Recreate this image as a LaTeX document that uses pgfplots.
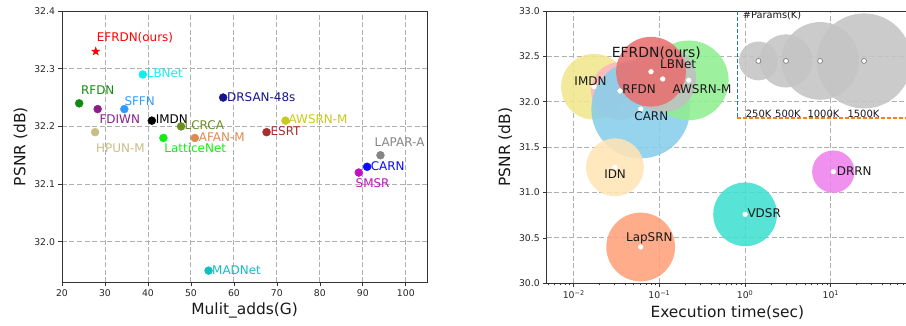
\documentclass[border=0pt]{standalone}
\usepackage{fontspec}
\setmainfont{DejaVu Sans}
\usepackage{pgfplots}
\pgfplotsset{compat=1.18}

\definecolor{cLB}{HTML}{11F0F0}
\definecolor{cRF}{HTML}{128A12}
\definecolor{cFD}{HTML}{8A1F8A}
\definecolor{cSF}{HTML}{3399FF}
\definecolor{cLC}{HTML}{6B8E23}
\definecolor{cHP}{HTML}{C9BC85}
\definecolor{cLN}{HTML}{11EE11}
\definecolor{cAF}{HTML}{DD8A4F}
\definecolor{cDR}{HTML}{14148C}
\definecolor{cAW}{HTML}{C8C81E}
\definecolor{cES}{HTML}{AA2D2D}
\definecolor{cLA}{HTML}{858585}
\definecolor{cCA}{HTML}{0A0AFF}
\definecolor{cSM}{HTML}{C010C0}
\definecolor{cMA}{HTML}{10BFBF}
\definecolor{gridc}{HTML}{B0B0B0}

\definecolor{bIM}{HTML}{F0E68C}
\definecolor{bRF}{HTML}{FFB6C1}
\definecolor{bCA}{HTML}{87CEEB}
\definecolor{bAW}{HTML}{90EE90}
\definecolor{bLB}{HTML}{C0C0C0}
\definecolor{bEF}{HTML}{E87070}
\definecolor{bID}{HTML}{FFE4B5}
\definecolor{bLP}{HTML}{FFA07A}
\definecolor{bVD}{HTML}{40E0D0}
\definecolor{bDR}{HTML}{EE82EE}
\definecolor{bLG}{HTML}{C4C4C4}
\definecolor{tabblue}{HTML}{1F77B4}
\definecolor{taborange}{HTML}{FF7F0E}

\pgfdeclareplotmark{fstar}{%
  \pgfpathmoveto{\pgfpointpolar{90}{\pgfplotmarksize}}%
  \pgfpathlineto{\pgfpointpolar{126}{0.40\pgfplotmarksize}}%
  \pgfpathlineto{\pgfpointpolar{162}{\pgfplotmarksize}}%
  \pgfpathlineto{\pgfpointpolar{198}{0.40\pgfplotmarksize}}%
  \pgfpathlineto{\pgfpointpolar{234}{\pgfplotmarksize}}%
  \pgfpathlineto{\pgfpointpolar{270}{0.40\pgfplotmarksize}}%
  \pgfpathlineto{\pgfpointpolar{306}{\pgfplotmarksize}}%
  \pgfpathlineto{\pgfpointpolar{342}{0.40\pgfplotmarksize}}%
  \pgfpathlineto{\pgfpointpolar{18}{\pgfplotmarksize}}%
  \pgfpathlineto{\pgfpointpolar{54}{0.40\pgfplotmarksize}}%
  \pgfpathclose
  \pgfusepathqfillstroke
}

\newcommand{\pt}[3]{\addplot[only marks, mark=*, mark size=4, color=#1, mark options={draw=#1, fill=#1}] coordinates {(#2,#3)};}
\newcommand{\lab}[4]{\node[anchor=west, inner sep=0pt, text=#1, font=\fontsize{12}{14}\selectfont] at (axis cs:#2,#3) {#4};}
\newcommand{\bub}[4]{\addplot[only marks, mark=*, mark size=#4, mark options={draw=#1, draw opacity=0, fill=#1, fill opacity=0.88}] coordinates {(#2,#3)};}
\newcommand{\rlab}[3]{\node[anchor=west, inner sep=0pt, text=black!90, font=\fontsize{12}{14}\selectfont] at (axis cs:#1,#2) {#3};}

\pgfplotsset{
  myax/.style={
    scale only axis,
    /pgf/number format/assume math mode=true,
    tick label style={font=\fontsize{9.3}{11}\selectfont, text=black!85},
    label style={font=\fontsize{15.5}{18}\selectfont, text=black!90},
    tick align=outside, xtick pos=bottom, ytick pos=left,
    major tick length=3.5bp, minor tick length=2bp,
    every tick/.style={black!80, line width=0.7bp},
    grid=major,
    major grid style={gridc, line width=0.9bp, dash pattern=on 5bp off 2.5bp},
    axis line style={black!80, line width=0.8bp},
    yticklabel style={/pgf/number format/fixed, /pgf/number format/precision=1, /pgf/number format/fixed zerofill},
  },
}

\begin{document}
\begin{tikzpicture}[x=1bp,y=1bp]
\path[use as bounding box] (-62,-42.7) rectangle (844,282.3);

% ---------- left chart ----------
\begin{axis}[myax,
  at={(0bp,0bp)}, anchor=south west,
  width=365.3bp, height=271.3bp,
  xmin=20, xmax=105, ymin=31.9298, ymax=32.4,
  xtick={20,30,40,50,60,70,80,90,100},
  ytick={32.0,32.1,32.2,32.3,32.4},
  xticklabel style={/pgf/number format/fixed, /pgf/number format/precision=0},
  xlabel={Mulit\_adds(G)}, ylabel={PSNR (dB)},
]
\addplot[only marks, mark=fstar, mark size=4.3, color=red, mark options={fill=red, draw=red}] coordinates {(27.85,32.33)};
\pt{cLB}{38.8}{32.29}
\pt{cRF}{24.0}{32.24}
\pt{cFD}{28.3}{32.23}
\pt{cSF}{34.5}{32.23}
\pt{black}{40.9}{32.21}
\pt{cLC}{47.7}{32.20}
\pt{cHP}{27.7}{32.19}
\pt{cLN}{43.6}{32.18}
\pt{cAF}{50.9}{32.18}
\pt{cDR}{57.5}{32.25}
\pt{cAW}{72.0}{32.21}
\pt{cES}{67.6}{32.19}
\pt{cLA}{94.1}{32.15}
\pt{cCA}{91.0}{32.13}
\pt{cSM}{89.05}{32.12}
\pt{cMA}{54.1}{31.95}
\lab{red}{28.06}{32.353}{EFRDN(ours)}
\lab{cLB}{39.7}{32.292}{LBNet}
\lab{cRF}{24.4}{32.262}{RFDN}
\lab{cSF}{34.5}{32.244}{SFFN}
\lab{cFD}{28.7}{32.213}{FDIWN}
\lab{black}{41.8}{32.213}{IMDN}
\lab{cLC}{48.5}{32.202}{LCRCA}
\lab{cHP}{27.9}{32.162}{HPUN-M}
\lab{cLN}{43.8}{32.162}{LatticeNet}
\lab{cAF}{51.8}{32.182}{AFAN-M}
\lab{cDR}{58.4}{32.25}{DRSAN-48s}
\lab{cAW}{72.7}{32.213}{AWSRN-M}
\lab{cES}{68.5}{32.191}{ESRT}
\lab{cLA}{92.7}{32.172}{LAPAR-A}
\lab{cCA}{91.8}{32.131}{CARN}
\lab{cSM}{88.3}{32.101}{SMSR}
\lab{cMA}{54.9}{31.951}{MADNet}
\end{axis}

% ---------- right chart ----------
\begin{axis}[myax,
  at={(484.7bp,-1bp)}, anchor=south west,
  width=361.3bp, height=272.3bp,
  xmode=log, xmin=0.004842, xmax=79.6, ymin=30, ymax=33,
  xtick={0.01,0.1,1,10},
  xticklabels={10\textsuperscript{−2},10\textsuperscript{−1},10\textsuperscript{0},10\textsuperscript{1}},
  minor xtick={0.005,0.006,0.007,0.008,0.009,0.02,0.03,0.04,0.05,0.06,0.07,0.08,0.09,0.2,0.3,0.4,0.5,0.6,0.7,0.8,0.9,2,3,4,5,6,7,8,9,20,30,40,50,60,70},
  ytick={30.0,30.5,31.0,31.5,32.0,32.5,33.0},
  xlabel={Execution time(sec)}, ylabel={PSNR (dB)},
]
\bub{bIM}{0.01726}{32.166}{33}
\bub{bRF}{0.0347}{32.119}{29}
\bub{bCA}{0.0605}{31.92}{49.5}
\bub{bAW}{0.22}{32.236}{40}
\bub{bLB}{0.1094}{32.251}{33.6}
\bub{bEF}{0.0798}{32.331}{35}
\bub{bID}{0.0303}{31.278}{29}
\bub{bLP}{0.0605}{30.40}{34.5}
\bub{bVD}{1.0}{30.76}{32}
\bub{bDR}{10.7}{31.23}{21.3}
\addplot[only marks, mark=*, mark size=2.4, mark options={draw=white, fill=white}] coordinates {
(0.01726,32.166) (0.0347,32.119) (0.0605,31.92) (0.22,32.236) (0.1094,32.251) (0.0798,32.331)
(0.0303,31.278) (0.0605,30.40) (1.0,30.76) (10.7,31.23)};
% size legend
\bub{bLG}{1.43}{32.45}{19.5}
\bub{bLG}{3.0}{32.45}{26.7}
\bub{bLG}{7.5}{32.45}{39}
\bub{bLG}{24.4}{32.45}{47.7}
\addplot[only marks, mark=*, mark size=2.5, mark options={draw=black!55, line width=0.6bp, fill=white}] coordinates {(1.43,32.45) (3.0,32.45) (7.5,32.45) (24.4,32.45)};
\addplot[draw=tabblue, color=tabblue, no marks, line width=1.3bp, dash pattern=on 4bp off 2bp] coordinates {(0.81,33) (0.81,31.82)};
\addplot[draw=taborange, color=taborange, no marks, line width=1.3bp, dash pattern=on 4bp off 2bp] coordinates {(0.81,31.82) (79.6,31.82)};
\end{axis}

% ---------- overlay for right chart labels ----------
\begin{axis}[
  at={(484.7bp,-1bp)}, anchor=south west,
  width=361.3bp, height=272.3bp, scale only axis,
  xmode=log, xmin=0.004842, xmax=79.6, ymin=30, ymax=33,
  hide axis]
\node[anchor=west, inner sep=0pt, text=black!90, font=\fontsize{9.8}{11}\selectfont] at (axis cs:0.937,32.956) {\#Params(K)};
\node[anchor=west, inner sep=0pt, text=black!90, font=\fontsize{10}{12}\selectfont] at (axis cs:1.016,31.865) {250K};
\node[anchor=west, inner sep=0pt, text=black!90, font=\fontsize{10}{12}\selectfont] at (axis cs:2.23,31.865) {500K};
\node[anchor=west, inner sep=0pt, text=black!90, font=\fontsize{10}{12}\selectfont] at (axis cs:5.32,31.865) {1000K};
\node[anchor=west, inner sep=0pt, text=black!90, font=\fontsize{10}{12}\selectfont] at (axis cs:15.6,31.865) {1500K};
\node[anchor=west, inner sep=0pt, text=black!90, font=\fontsize{14}{16}\selectfont] at (axis cs:0.0277,32.54) {EFRDN(ours)};
\rlab{0.1016}{32.416}{LBNet}
\rlab{0.01016}{32.232}{IMDN}
\rlab{0.0369}{32.137}{RFDN}
\rlab{0.1416}{32.137}{AWSRN-M}
\rlab{0.0509}{31.846}{CARN}
\rlab{0.0226}{31.204}{IDN}
\rlab{0.0407}{30.496}{LapSRN}
\rlab{1.062}{30.771}{VDSR}
\rlab{11.72}{31.24}{DRRN}
\end{axis}
\end{tikzpicture}
\end{document}
